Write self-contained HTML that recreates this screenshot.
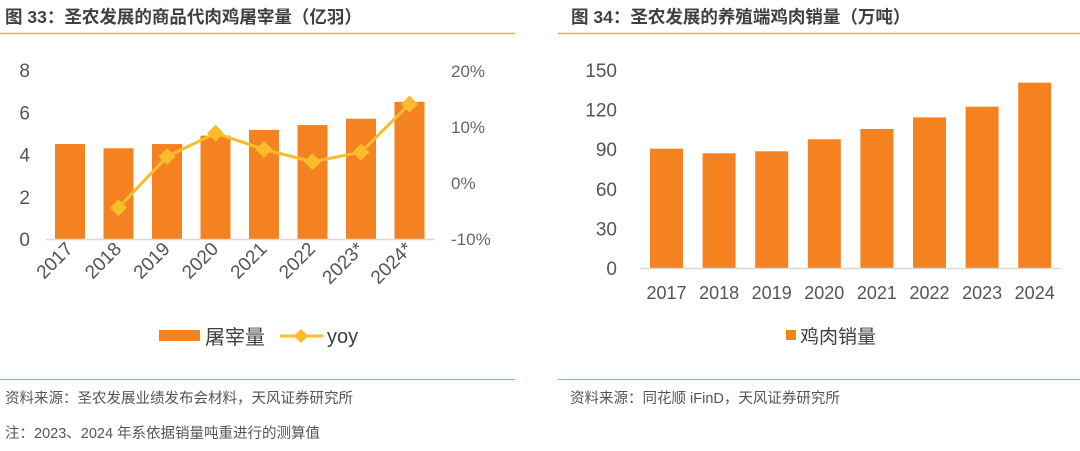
<!DOCTYPE html>
<html><head><meta charset="utf-8"><style>
body{margin:0;width:1080px;height:446px;background:#fff;overflow:hidden;font-family:"Liberation Sans","Noto Sans CJK SC",sans-serif;}
svg text{font-family:"Liberation Sans","Noto Sans CJK SC",sans-serif;}
</style></head><body>
<svg id="s" width="1080" height="446">
<text x="5" y="23" font-size="17.5" font-weight="bold" fill="#404040">图 33：圣农发展的商品代肉鸡屠宰量（亿羽）</text>
<line x1="0" y1="33.5" x2="515" y2="33.5" stroke="#f4a460" stroke-width="1.5"/>
<text x="571" y="23" font-size="17.5" font-weight="bold" fill="#404040">图 34：圣农发展的养殖端鸡肉销量（万吨）</text>
<line x1="558" y1="33.5" x2="1080" y2="33.5" stroke="#f4a460" stroke-width="1.5"/>
<line x1="0" y1="379.5" x2="515" y2="379.5" stroke="#e8904a" stroke-width="1"/>
<line x1="558" y1="379.5" x2="1080" y2="379.5" stroke="#e8904a" stroke-width="1"/>
<text x="5" y="403" font-size="14.5" fill="#555">资料来源：圣农发展业绩发布会材料，天风证券研究所</text>
<text x="5" y="438" font-size="14.5" fill="#555">注：2023、2024 年系依据销量吨重进行的测算值</text>
<text x="570" y="403" font-size="14.5" fill="#555">资料来源：同花顺 iFinD，天风证券研究所</text>
<g id="L"></g><g id="R"></g>
<rect x="159" y="330" width="41" height="11" fill="#f58220"/>
<text x="205" y="344" font-size="20" fill="#404040">屠宰量</text>
<line x1="280" y1="336" x2="323" y2="336" stroke="#fbbc2b" stroke-width="3"/>
<rect x="296" y="331" width="10" height="10" transform="rotate(45 301 336)" fill="#fbbc2b"/>
<text x="327" y="343" font-size="20" fill="#404040">yoy</text>
<rect x="786" y="330" width="10" height="10" fill="#f58220"/>
<text x="800" y="343" font-size="19" fill="#404040">鸡肉销量</text>
</svg>
<script>
const cats=['2017','2018','2019','2020','2021','2022','2023*','2024*'];
const slaughter=[4.5,4.3,4.5,4.9,5.17,5.4,5.7,6.5];
const yoy=[null,-4.4,4.7,8.9,6.0,3.8,5.5,14.1];
const leftTicks=[0,2,4,6,8];
const rightTicks=[-10,0,10,20];
const cats2=['2017','2018','2019','2020','2021','2022','2023','2024'];
const sales=[90.4,86.9,88.4,97.5,105.3,114.1,122.2,140.4];
const ticks2=[0,30,60,90,120,150];
const NS='http://www.w3.org/2000/svg';
function mk(p,t,a){const e=document.createElementNS(NS,t);for(const k in a)e.setAttribute(k,a[k]);p.appendChild(e);return e;}
const L=document.getElementById('L');
const lx=i=>70+i*48.5, ly=v=>239-v*21.1, ry=v=>183-v*5.6;
leftTicks.forEach(t=>{const e=mk(L,'text',{x:30,y:ly(t)+7,'font-size':19,fill:'#555','text-anchor':'end'});e.textContent=t;

});
rightTicks.forEach(t=>{const e=mk(L,'text',{x:451,y:ry(t)+6,'font-size':17,fill:'#666'});e.textContent=t+'%';

});
slaughter.forEach((v,i)=>{const e=mk(L,'rect',{x:lx(i)-15,y:ly(v),width:30,height:239-ly(v),fill:'#f58220'});

});
mk(L,'line',{x1:46,y1:239.5,x2:435,y2:239.5,stroke:'#d9d9d9','stroke-width':1.5});
cats.forEach((c,i)=>{const x=lx(i)+4,y=250;const e=mk(L,'text',{x:x,y:y,'font-size':19,fill:'#555','text-anchor':'end',transform:`rotate(-45 ${x} ${y})`});e.textContent=c;

});
const pts=yoy.map((v,i)=>v===null?null:[lx(i),ry(v)]).filter(p=>p);
const pl=mk(L,'polyline',{points:pts.map(p=>p.join(',')).join(' '),fill:'none',stroke:'#fbbc2b','stroke-width':3});


pts.forEach(p=>{const e=mk(L,'rect',{x:p[0]-6,y:p[1]-6,width:12,height:12,fill:'#fbbc2b',transform:`rotate(45 ${p[0]} ${p[1]})`});

});
const R=document.getElementById('R');
const bx=i=>666.5+i*52.6, by=v=>268-v*1.32;
ticks2.forEach(t=>{const e=mk(R,'text',{x:617,y:by(t)+7,'font-size':19,fill:'#555','text-anchor':'end'});e.textContent=t;

});
sales.forEach((v,i)=>{const e=mk(R,'rect',{x:bx(i)-16.5,y:by(v),width:33,height:268-by(v),fill:'#f58220'});

});
mk(R,'line',{x1:640,y1:268.5,x2:1061,y2:268.5,stroke:'#d9d9d9','stroke-width':1.5});
cats2.forEach((c,i)=>{const e=mk(R,'text',{x:bx(i),y:299,'font-size':18,fill:'#555','text-anchor':'middle'});e.textContent=c;

});
</script>
</body></html>
